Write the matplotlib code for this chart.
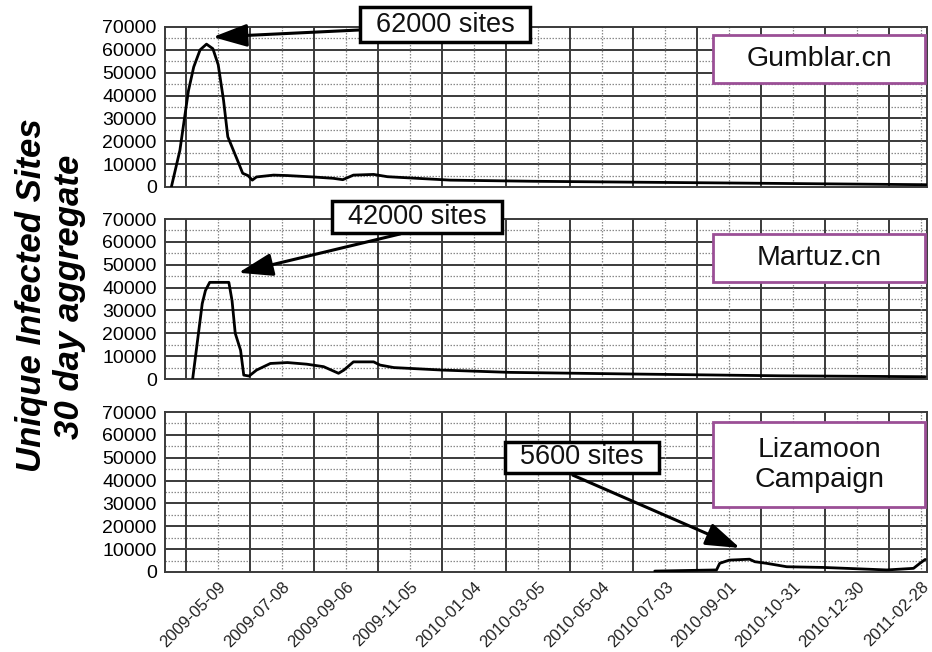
import matplotlib
matplotlib.use("Agg")
import matplotlib.pyplot as plt
from matplotlib.patches import Rectangle
import pandas as pd

plt.rcParams['font.family'] = ['Liberation Sans', 'DejaVu Sans']

# ---------------- data ----------------
gumblar_dates = ["2009-03-26", "2009-04-03", "2009-04-11", "2009-04-16", "2009-04-22",
                 "2009-04-28", "2009-05-04", "2009-05-09", "2009-05-14", "2009-05-18",
                 "2009-05-27", "2009-06-01", "2009-06-06", "2009-06-10", "2009-06-14",
                 "2009-06-30", "2009-07-13", "2009-08-06", "2009-08-25", "2009-09-03",
                 "2009-09-13", "2009-10-02", "2009-10-15", "2009-12-13", "2010-03-01",
                 "2010-07-01", "2010-11-01", "2011-03-05"]
gumblar_vals = [0, 16000, 42000, 52500, 60000,
                62500, 60500, 53500, 38000, 22000,
                11800, 6000, 5000, 3000, 4400,
                5200, 5000, 4400, 3800, 3200,
                5200, 5500, 4500, 3000, 2500,
                2000, 1500, 1000]

martuz_dates = ["2009-04-15", "2009-04-24", "2009-04-27", "2009-05-01", "2009-05-19",
                "2009-05-22", "2009-05-25", "2009-05-30", "2009-06-02", "2009-06-07",
                "2009-06-14", "2009-06-27", "2009-07-13", "2009-07-31", "2009-08-16",
                "2009-08-30", "2009-09-04", "2009-09-13", "2009-10-02", "2009-10-08",
                "2009-10-21", "2009-12-06", "2010-02-07", "2010-05-31", "2010-10-19",
                "2011-03-04"]
martuz_vals = [0, 33000, 38700, 42300, 42300,
               34300, 20000, 12600, 1700, 1300,
               3900, 6800, 7200, 6500, 5400,
               2500, 3900, 7500, 7500, 6100,
               5000, 3900, 2900, 2200, 1400,
               1000]

lizamoon_dates = ["2010-06-23", "2010-08-20", "2010-08-23", "2010-09-01", "2010-09-20",
                  "2010-09-25", "2010-10-06", "2010-10-25", "2010-11-28", "2011-01-27",
                  "2011-02-21", "2011-02-27", "2011-03-04"]
lizamoon_vals = [400, 900, 3800, 5200, 5600,
                 4500, 3800, 2300, 2000, 900,
                 1600, 3800, 5500]

panel_names = ["Gumblar.cn", "Martuz.cn", "Lizamoon\nCampaign"]

tick_labels = ["2009-05-09", "2009-07-08", "2009-09-06", "2009-11-05", "2010-01-04",
               "2010-03-05", "2010-05-04", "2010-07-03", "2010-09-01", "2010-10-31",
               "2010-12-30", "2011-02-28"]
y_ticks = [0, 10000, 20000, 30000, 40000, 50000, 60000, 70000]

ann_text = ["62000 sites", "42000 sites", "5600 sites"]
ann_tip_date = ["2009-05-04", "2009-05-28", "2010-09-11"]
ann_tip_val = [65600, 46500, 10500]
ann_tail_date = ["2009-09-19", "2009-10-27", "2010-04-07"]
ann_tail_val = [68700, 63500, 42400]

# layout (axes-fraction boxes)
name_boxes = [(0.719, 0.65, 0.278, 0.30), (0.719, 0.609, 0.278, 0.298),
              (0.719, 0.406, 0.278, 0.531)]
ann_boxes = [(0.256, 0.906, 0.223, 0.219), (0.219, 0.913, 0.223, 0.199),
             (0.446, 0.619, 0.202, 0.194)]

# ---------------- figure ----------------
fig = plt.figure(figsize=(9.32, 6.52), dpi=100)
left, width = 0.177, 0.818
panel_rect = [(0.7132, 0.2454), (0.4187, 0.2453), (0.1227, 0.2453)]

series = [(gumblar_dates, gumblar_vals), (martuz_dates, martuz_vals),
          (lizamoon_dates, lizamoon_vals)]

xmin = pd.Timestamp("2009-03-20")
xmax = pd.Timestamp("2011-03-06")
label_pos = pd.to_datetime(tick_labels)
major_pos = label_pos - pd.Timedelta(days=30)

axes = []
for i, ((d, v), (b, h)) in enumerate(zip(series, panel_rect)):
    ax = fig.add_axes([left, b, width, h])
    axes.append(ax)
    ax.set_xlim(xmin, xmax)
    ax.set_ylim(0, 70000)
    for yv in y_ticks[1:-1]:
        ax.axhline(yv, color="#3a3a3a", lw=1.4, zorder=1)
    for yv in range(5000, 70000, 10000):
        ax.axhline(yv, color="#8a8a8a", lw=0.9, ls=(0, (1.2, 1.2)), zorder=1)
    for xv in major_pos:
        ax.axvline(xv, color="#3a3a3a", lw=1.4, zorder=1)
    for xv in label_pos:
        ax.axvline(xv, color="#8a8a8a", lw=0.9, ls=(0, (1.2, 1.2)), zorder=1)
    ax.plot(pd.to_datetime(d), v, color="black", lw=2.0, zorder=3,
            solid_joinstyle="round", solid_capstyle="round")
    ax.set_yticks(y_ticks)
    ax.set_yticklabels([str(t) for t in y_ticks], fontsize=14)
    ax.tick_params(axis="y", length=0, pad=6)
    ax.set_xticks(label_pos)
    if i == 2:
        ax.set_xticklabels(tick_labels, rotation=45, ha="right",
                           rotation_mode="anchor", fontsize=12, color="#222222")
        ax.tick_params(axis="x", length=0, pad=5)
    else:
        ax.set_xticklabels([])
        ax.tick_params(axis="x", length=0)
    for s in ax.spines.values():
        s.set_color("#3a3a3a")
        s.set_linewidth(1.4)
    # panel name box
    bx, by, bw, bh = name_boxes[i]
    ax.add_patch(Rectangle((bx, by), bw, bh, transform=ax.transAxes, fc="white",
                           ec="#9b4f96", lw=2, zorder=6, clip_on=False))
    ax.text(bx + bw / 2, by + bh / 2, panel_names[i], transform=ax.transAxes,
            ha="center", va="center", fontsize=20.5, color="#111111", zorder=7,
            linespacing=1.2)

# annotations
for i, ax in enumerate(axes):
    tip = (pd.Timestamp(ann_tip_date[i]), ann_tip_val[i])
    tail = (pd.Timestamp(ann_tail_date[i]), ann_tail_val[i])
    ax.annotate("", xy=tip, xytext=tail, annotation_clip=False, zorder=7,
                arrowprops=dict(arrowstyle="-|>,head_length=1.05,head_width=0.35",
                                mutation_scale=20, color="black", lw=2.2,
                                shrinkA=0, shrinkB=0))
    bx, by, bw, bh = ann_boxes[i]
    ax.add_patch(Rectangle((bx, by), bw, bh, transform=ax.transAxes, fc="white",
                           ec="black", lw=2.5, zorder=8, clip_on=False))
    ax.text(bx + bw / 2, by + bh / 2, ann_text[i], transform=ax.transAxes,
            ha="center", va="center", fontsize=19.5, color="#111111", zorder=9,
            clip_on=False)

fig.text(0.034, 0.548, "Unique Infected Sites", rotation=90, ha="center", va="center",
         fontsize=25, fontweight="bold", fontstyle="italic")
fig.text(0.075, 0.545, "30 day aggregate", rotation=90, ha="center", va="center",
         fontsize=25, fontweight="bold", fontstyle="italic")

fig.savefig("out.png", dpi=100)
